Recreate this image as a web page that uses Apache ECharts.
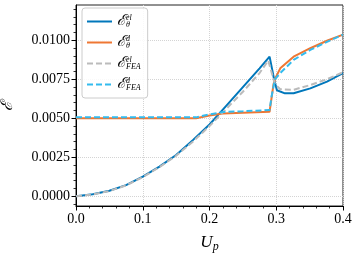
<!DOCTYPE html>
<html>
<head>
<meta charset="utf-8">
<script src="https://cdn.jsdelivr.net/npm/echarts@6/dist/echarts.min.js"></script>
<style>
html,body{margin:0;padding:0;background:#fff;}
#c{width:357px;height:257px;}
</style>
</head>
<body>
<div id="c"></div>
<script>
// ---- data ----
var elThetaX = [0, 0.025, 0.05, 0.075, 0.1, 0.125, 0.15, 0.175, 0.2, 0.225, 0.25, 0.275, 0.29, 0.297, 0.301, 0.313, 0.326, 0.351, 0.376, 0.4];
var elThetaY = [0, 0.00013, 0.00036, 0.00072, 0.00126, 0.0019, 0.00265, 0.0036, 0.0046, 0.0058, 0.0070, 0.0082, 0.00895, 0.00745, 0.0068, 0.0066, 0.0066, 0.00692, 0.00735, 0.0079];

var dThetaX = [0, 0.05, 0.1, 0.15, 0.18, 0.2, 0.22, 0.25, 0.29, 0.2915, 0.296, 0.2985, 0.306, 0.326, 0.351, 0.376, 0.4];
var dThetaY = [0.005, 0.005, 0.005, 0.005, 0.005, 0.00518, 0.0053, 0.00535, 0.00542, 0.0055, 0.0072, 0.00755, 0.0082, 0.00895, 0.00949, 0.00997, 0.01036];

var elFeaX = [0, 0.025, 0.05, 0.075, 0.1, 0.125, 0.15, 0.175, 0.2, 0.225, 0.25, 0.275, 0.288, 0.298, 0.306, 0.326, 0.351, 0.376, 0.4];
var elFeaY = [0, 0.00012, 0.00034, 0.0007, 0.00123, 0.00187, 0.0026, 0.0035, 0.0045, 0.0056, 0.0067, 0.0079, 0.0087, 0.0072, 0.00686, 0.00683, 0.00713, 0.0075, 0.00795];

var dFeaX = [0, 0.05, 0.1, 0.15, 0.18, 0.2, 0.22, 0.25, 0.29, 0.293, 0.298, 0.306, 0.326, 0.351, 0.376, 0.4];
var dFeaY = [0.00506, 0.00506, 0.00506, 0.00506, 0.00506, 0.00525, 0.0054, 0.00545, 0.00553, 0.0064, 0.0075, 0.0079, 0.00874, 0.00938, 0.0099, 0.01036];

var yMajorTicks = [0, 0.0025, 0.005, 0.0075, 0.01];
var yMinorTicks = [-0.0005, 0, 0.0005, 0.001, 0.0015, 0.002, 0.0025, 0.003, 0.0035, 0.004, 0.0045, 0.005, 0.0055, 0.006, 0.0065, 0.007, 0.0075, 0.008, 0.0085, 0.009, 0.0095, 0.01, 0.0105, 0.011, 0.0115, 0.012];
var xTickLabels = ['0.0', '0.1', '0.2', '0.3', '0.4'];

var seriesNames = ['elTheta', 'dTheta', 'elFEA', 'dFEA'];
var legendLabels = {
  elTheta: ['el', 'θ'],
  dTheta: ['d', 'θ'],
  elFEA: ['el', 'FEA'],
  dFEA: ['d', 'FEA']
};

function pairs(xs, ys) {
  return xs.map(function (x, i) { return [x, ys[i]]; });
}

var SERIF = "'Liberation Serif', 'DejaVu Serif', serif";
var SUPFONT = "italic 8px 'Liberation Serif'";
var measureCtx = document.createElement('canvas').getContext('2d');
function textW(t) { measureCtx.font = SUPFONT; return measureCtx.measureText(t).width; }

var chart = echarts.init(document.getElementById('c'), null, {renderer: 'canvas'});

var option = {
  animation: false,
  backgroundColor: '#fff',
  grid: {
    left: 76, right: 14, top: 5, bottom: 51,
    containLabel: false,
    outerBoundsMode: 'none',
    show: true, borderColor: '#222', borderWidth: 1, backgroundColor: 'transparent'
  },
  legend: {
    left: 82, top: 8,
    orient: 'vertical',
    itemWidth: 25, itemHeight: 14, itemGap: 6,
    padding: [6, 7, 6, 4],
    backgroundColor: 'rgba(255,255,255,0.85)',
    borderColor: '#cccccc', borderWidth: 1, borderRadius: 3,
    itemStyle: {opacity: 0, borderWidth: 0},
    data: seriesNames,
    formatter: function (name) {
      var l = legendLabels[name];
      return '{e|ℰ}{sup|' + l[0] + '}{sub' + Math.round(textW(l[0]) * 10) + '|' + l[1] + '}';
    },
    textStyle: {
      color: '#000',
      rich: (function () {
        var r = {
          e: {fontFamily: SERIF, fontSize: 15, fontStyle: 'italic', color: '#000'},
          sup: {fontFamily: SERIF, fontSize: 8, fontStyle: 'italic', verticalAlign: 'top', padding: [0, 0, 6, 0], color: '#000'}
        };
        seriesNames.forEach(function (n) {
          var w = textW(legendLabels[n][0]);
          r['sub' + Math.round(w * 10)] = {fontFamily: SERIF, fontSize: 8, fontStyle: 'italic', verticalAlign: 'bottom', padding: [7, 0, 0, -w], color: '#000'};
        });
        return r;
      })()
    }
  },
  xAxis: {
    type: 'value',
    min: 0, max: 0.4, interval: 0.1,
    name: '{u|U}{p|p}',
    nameLocation: 'middle',
    nameGap: 27,
    nameTextStyle: {
      rich: {
        u: {fontFamily: SERIF, fontSize: 17, fontStyle: 'italic', color: '#000'},
        p: {fontFamily: SERIF, fontSize: 12, fontStyle: 'italic', color: '#000', padding: [8, 0, 0, 0]}
      }
    },
    axisLine: {show: true, onZero: false, lineStyle: {color: '#000', width: 1}},
    axisTick: {show: true, inside: false, length: 4.5, lineStyle: {color: '#000', width: 1}},
    minorTick: {show: true, splitNumber: 5, length: 2.5, lineStyle: {color: '#000', width: 0.8}},
    axisLabel: {
      color: '#000', fontFamily: SERIF, fontSize: 14, margin: 6,
      formatter: function (v) { return xTickLabels[Math.round(v * 10)]; }
    },
    splitLine: {show: true, lineStyle: {color: '#d4d4d4', type: 'dotted', width: 1}}
  },
  yAxis: [{
    type: 'value',
    min: -0.00062, max: 0.01226,
    name: 'ℰ',
    nameLocation: 'middle',
    nameGap: 60,
    nameRotate: 90,
    nameTextStyle: {fontFamily: SERIF, fontSize: 16, fontStyle: 'italic', color: '#000'},
    axisLine: {show: true, onZero: false, lineStyle: {color: '#000', width: 1}},
    axisTick: {show: true, inside: false, length: 4.5, customValues: yMajorTicks, lineStyle: {color: '#000', width: 1}},
    axisLabel: {
      color: '#000', fontFamily: SERIF, fontSize: 14, margin: 6,
      customValues: yMajorTicks,
      formatter: function (v) { return v.toFixed(4); }
    },
    splitLine: {show: true, lineStyle: {color: '#d4d4d4', type: 'dotted', width: 1}}
  }, {
    type: 'value',
    position: 'left',
    min: -0.00062, max: 0.01226,
    axisLine: {show: false},
    axisTick: {show: true, inside: false, length: 2.5, customValues: yMinorTicks, lineStyle: {color: '#000', width: 0.8}},
    axisLabel: {show: false},
    splitLine: {show: false}
  }],
  series: [{
    name: 'elTheta', type: 'line', data: pairs(elThetaX, elThetaY),
    symbol: 'none', color: '#0077BB', lineStyle: {color: '#0077BB', width: 2}, z: 2
  }, {
    name: 'dTheta', type: 'line', data: pairs(dThetaX, dThetaY),
    symbol: 'none', color: '#EE7733', lineStyle: {color: '#EE7733', width: 2}, z: 3
  }, {
    name: 'elFEA', type: 'line', data: pairs(elFeaX, elFeaY),
    symbol: 'none', color: '#BBBBBB', lineStyle: {color: '#BBBBBB', width: 2, type: [6, 3]}, z: 4
  }, {
    name: 'dFEA', type: 'line', data: pairs(dFeaX, dFeaY),
    symbol: 'none', color: '#33BBEE', lineStyle: {color: '#33BBEE', width: 2, type: [6, 3]}, z: 5
  }]
};
chart.setOption(option);
</script>
</body>
</html>
